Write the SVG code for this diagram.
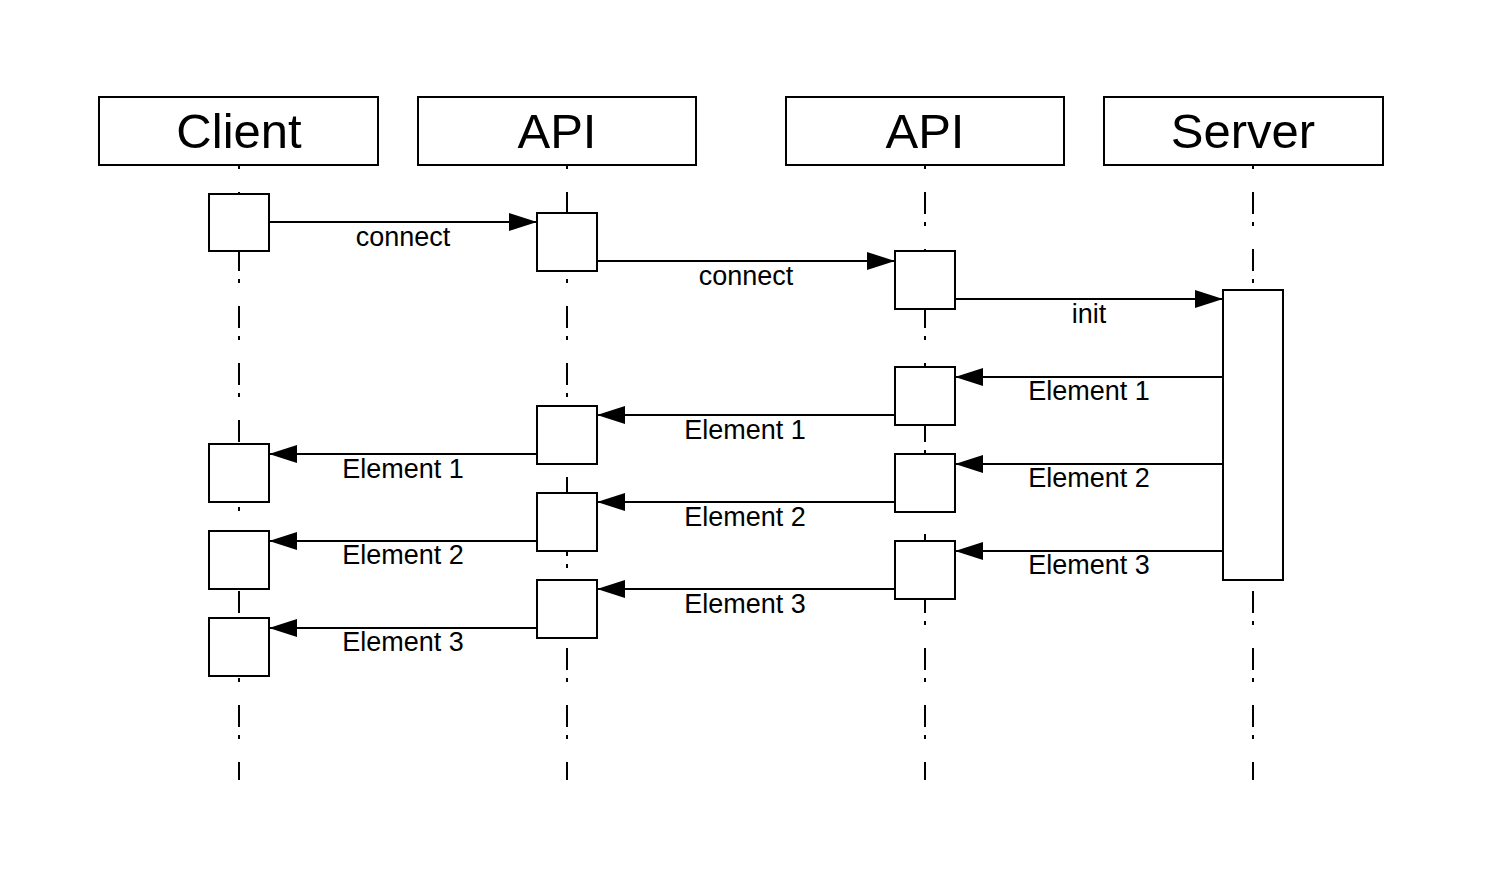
<svg xmlns="http://www.w3.org/2000/svg" width="1488" height="876" viewBox="0 0 1488 876">
<defs>
<marker id="ah" markerWidth="28" markerHeight="18" refX="28" refY="9" orient="auto" markerUnits="userSpaceOnUse">
<polygon points="0,0 28,9 0,18" fill="#000"/>
</marker>
<style>
.hdr{fill:#fff;stroke:#000;stroke-width:2}
.act{fill:#fff;stroke:#000;stroke-width:2}
.life{stroke:#000;stroke-width:2;stroke-dasharray:22 8 4 23;stroke-dashoffset:31;fill:none}
.msg{stroke:#000;stroke-width:2;fill:none;marker-end:url(#ah)}
.ht{font-family:"Liberation Sans",Arial,sans-serif;font-size:49px;text-anchor:middle;fill:#000}
.lt{font-family:"Liberation Sans",Arial,sans-serif;font-size:27px;text-anchor:middle;fill:#000}
</style>
</defs>
<rect width="1488" height="876" fill="#fff"/>
<g id="lifelines">
<line class="life" x1="239" y1="166" x2="239" y2="780"/>
<line class="life" x1="567" y1="166" x2="567" y2="780"/>
<line class="life" x1="925" y1="166" x2="925" y2="780"/>
<line class="life" x1="1253" y1="166" x2="1253" y2="780"/>
</g>
<g id="client">
<rect class="hdr" x="99" y="97" width="279" height="68"/>
<text class="ht" x="239" y="148">Client</text>
</g>
<g id="api1">
<rect class="hdr" x="418" y="97" width="278" height="68"/>
<text class="ht" x="557" y="148">API</text>
</g>
<g id="api2">
<rect class="hdr" x="786" y="97" width="278" height="68"/>
<text class="ht" x="925" y="148">API</text>
</g>
<g id="server">
<rect class="hdr" x="1104" y="97" width="279" height="68"/>
<text class="ht" x="1243" y="148">Server</text>
</g>
<g id="client-activations">
<rect class="act" x="209" y="194" width="60" height="57"/>
<rect class="act" x="209" y="444" width="60" height="58"/>
<rect class="act" x="209" y="531" width="60" height="58"/>
<rect class="act" x="209" y="618" width="60" height="58"/>
</g>
<g id="api1-activations">
<rect class="act" x="537" y="213" width="60" height="58"/>
<rect class="act" x="537" y="406" width="60" height="58"/>
<rect class="act" x="537" y="493" width="60" height="58"/>
<rect class="act" x="537" y="580" width="60" height="58"/>
</g>
<g id="api2-activations">
<rect class="act" x="895" y="251" width="60" height="58"/>
<rect class="act" x="895" y="367" width="60" height="58"/>
<rect class="act" x="895" y="454" width="60" height="58"/>
<rect class="act" x="895" y="541" width="60" height="58"/>
</g>
<g id="server-activation">
<rect class="act" x="1223" y="290" width="60" height="290"/>
</g>
<g id="connectors">
<line class="msg" x1="269" y1="222" x2="537" y2="222"/>
<line class="msg" x1="597" y1="261" x2="895" y2="261"/>
<line class="msg" x1="955" y1="299" x2="1223" y2="299"/>
<line class="msg" x1="1223" y1="377" x2="955" y2="377"/>
<line class="msg" x1="895" y1="415" x2="597" y2="415"/>
<line class="msg" x1="537" y1="454" x2="269" y2="454"/>
<line class="msg" x1="1223" y1="464" x2="955" y2="464"/>
<line class="msg" x1="895" y1="502" x2="597" y2="502"/>
<line class="msg" x1="537" y1="541" x2="269" y2="541"/>
<line class="msg" x1="1223" y1="551" x2="955" y2="551"/>
<line class="msg" x1="895" y1="589" x2="597" y2="589"/>
<line class="msg" x1="537" y1="628" x2="269" y2="628"/>
</g>
<g id="labels">
<text class="lt" x="403" y="246">connect</text>
<text class="lt" x="746" y="285">connect</text>
<text class="lt" x="1089" y="323">init</text>
<text class="lt" x="1089" y="400">Element 1</text>
<text class="lt" x="745" y="439">Element 1</text>
<text class="lt" x="403" y="478">Element 1</text>
<text class="lt" x="1089" y="487">Element 2</text>
<text class="lt" x="745" y="526">Element 2</text>
<text class="lt" x="403" y="564">Element 2</text>
<text class="lt" x="1089" y="574">Element 3</text>
<text class="lt" x="745" y="613">Element 3</text>
<text class="lt" x="403" y="651">Element 3</text>
</g>
</svg>
